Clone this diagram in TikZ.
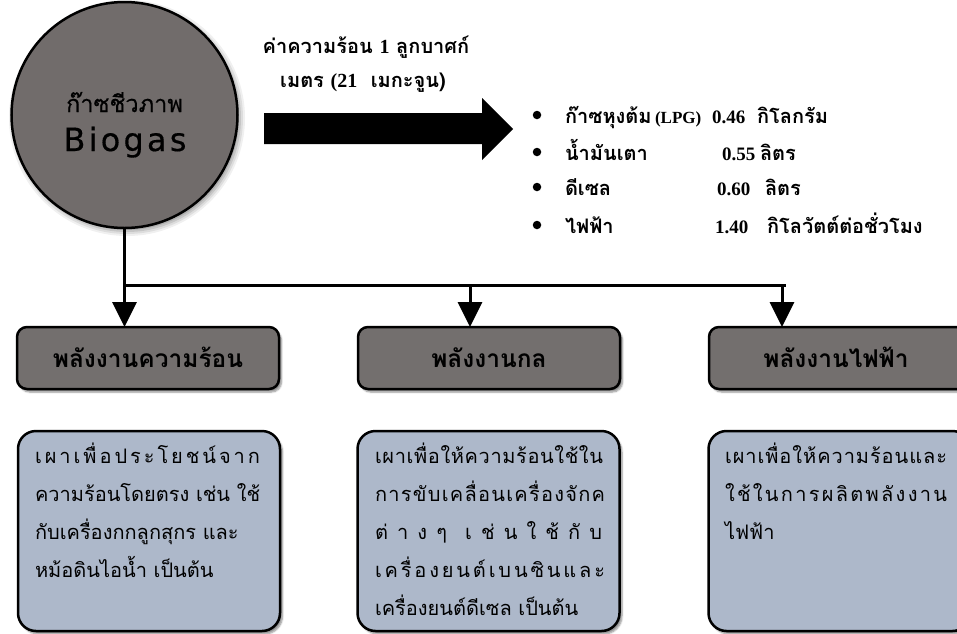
\documentclass[tikz,border=0pt]{standalone}
\usepackage{fontspec}
\usetikzlibrary{arrows.meta,shadows.blur}
\newfontfamily\thaifont[Script=Thai]{Loma}
\newfontfamily\hubthaifont[Script=Thai, FakeBold=0.6]{Loma}
\newfontfamily\numfont{Liberation Serif}
\newfontfamily\biofont[LetterSpace=10, FakeBold=0.4]{DejaVu Sans}
\definecolor{hubgray}{HTML}{716C6B}
\definecolor{boxgray}{HTML}{736F6E}
\definecolor{noteblue}{HTML}{ADB8CA}
\definecolor{inkblack}{HTML}{000000}
% a line of Thai clusters spread evenly over a fixed width
\newcommand\spreadline[2]{\leavevmode\hbox to #1{#2}}
\newcommand\gp{\hfil}
\newcommand\notefont{\thaifont\fontsize{20}{38}\selectfont\spaceskip=0.22em plus 0.1em\relax}
\tikzset{
  every node/.style={inner sep=0pt, outer sep=0pt},
  softshade/.style={blur shadow={shadow xshift=2.5pt, shadow yshift=-3pt,
      shadow blur steps=6, shadow opacity=45}},
  hub/.style={circle, draw, line width=2.5pt, fill=hubgray, minimum size=226pt},
  hubtext/.style={anchor=base, text=inkblack},
  titlebox/.style={draw, line width=2.5pt, fill=boxgray, rounded corners=10pt,
      minimum width=262pt, minimum height=62pt, softshade},
  notebox/.style={draw, line width=2.5pt, fill=noteblue, rounded corners=18pt,
      minimum width=262pt, minimum height=200pt, softshade},
  titletext/.style={anchor=base, text=black, font=\thaifont\bfseries\fontsize{24.5}{28}\selectfont},
  notetext/.style={anchor=base west, align=left, text width=250pt, text=black, font=\notefont},
  listtext/.style={anchor=base west, font=\thaifont\bfseries\fontsize{20}{24}\selectfont},
  listnum/.style={anchor=base west, font=\numfont\bfseries\fontsize{19}{24}\selectfont},
  bullet/.style={circle, fill=black, minimum size=8.5pt},
  bus/.style={line width=3pt},
  feed/.style={line width=3pt, -{Triangle[width=24pt,length=25pt]}},
}
\begin{document}
\begin{tikzpicture}[x=1pt, y=-1pt]
\useasboundingbox (0,0) rectangle (957,633);

% soft shadow under the hub, then the hub itself
\foreach \r/\o in {118/0.06,116/0.08,114/0.1,112/0.12}
  \fill[black, opacity=\o] (127,118) circle[radius=\r];
\node[hub] (bio) at (124.5,115) {};

% heating value caption and block arrow
\node[anchor=base, font=\thaifont\bfseries\fontsize{20}{24}\selectfont] (cap1) at (366,53)
  {ค่าความร้อน {\numfont\bfseries 1} ลูกบาศก์};
\node[anchor=base, font=\thaifont\bfseries\fontsize{20}{24}\selectfont] (cap2) at (363,87)
  {เมตร {\numfont\bfseries (21} \ เมกะจูน)};
\fill (264,113) -- (482,113) -- (482,98) -- (513,129) -- (482,160) -- (482,144) -- (264,144) -- cycle;

% equivalents list
\foreach \by [count=\i] in {115,152,187,225} \node[bullet] (b\i) at (537,\by) {};
\node[listtext] (l1) at (565,123) {ก๊าซหุงต้ม};
\node[listnum, font=\numfont\bfseries\fontsize{17}{24}\selectfont] (l1b) at (655,123) {(LPG)};
\node[listnum]  (n1) at (712,123) {0.46};
\node[listtext] (u1) at (757,123) {กิโลกรัม};
\node[listtext] (l2) at (565,160) {น้ำมันเตา};
\node[listnum]  (n2) at (722,160) {0.55};
\node[listtext] (u2) at (760,160) {ลิตร};
\node[listtext] (l3) at (565,195) {ดีเซล};
\node[listnum]  (n3) at (717,195) {0.60};
\node[listtext] (u3) at (765,195) {ลิตร};
\node[listtext] (l4) at (565,233) {ไฟฟ้า};
\node[listnum]  (n4) at (715,233) {1.40};
\node[listtext] (u4) at (767,233) {กิโลวัตต์ต่อชั่วโมง};

% energy categories
\node[titlebox] (heat) at (148,358) {};
\node[titlebox] (mech) at (489,358) {};
\node[titlebox] (elec) at (840,358) {};
\node[titletext] (heatt) at (148,367) {พลังงานความร้อน};
\node[titletext] (mecht) at (489,367) {พลังงานกล};
\node[titletext] (elect) at (836,367) {พลังงานไฟฟ้า};

% distribution bus
\coordinate (jL) at (124.5,285);
\coordinate (jM) at (470,285);
\coordinate (jR) at (782,285);
\coordinate (jEnd) at (786,285);
\draw[bus] (bio.south) -- (jL) -- (jEnd);
\draw[feed] (jL) -- (jL |- heat.north);
\draw[feed] (jM) -- (jM |- mech.north);
\draw[feed] (jR) -- (jR |- elec.north);

% descriptions
\node[notebox] (heatn) at (149,531) {};
\node[notebox] (mechn) at (488.5,531) {};
\node[notebox] (elecn) at (839.5,531) {};

\node[notetext] (heatd) at (35,463) {%
  \spreadline{225pt}{เ\gp ผ\gp า\gp เ\gp พื่\gp อ\gp ป\gp ร\gp ะ\gp โ\gp ย\gp ช\gp น์\gp จ\gp า\gp ก}\\
  ความร้อนโดยตรง เช่น ใช้\\
  กับเครื่องกกลูกสุกร และ\\
  หม้อดินไอน้ำ เป็นต้น};
\node[notetext] (mechd) at (375,463) {%
  \spreadline{228pt}{เ\gp ผ\gp า\gp เ\gp พื่\gp อ\gp ใ\gp ห้\gp ค\gp ว\gp า\gp ม\gp ร้\gp อ\gp น\gp ใ\gp ช้\gp ใ\gp น}\\
  \spreadline{230pt}{ก\gp า\gp ร\gp ขั\gp บ\gp เ\gp ค\gp ลื่\gp อ\gp น\gp เ\gp ค\gp รื่\gp อ\gp ง\gp จั\gp ก\gp ค}\\
  \spreadline{227pt}{ต่\gp า\gp ง\gp ๆ\gp\gp เ\gp ช่\gp น\gp ใ\gp ช้\gp กั\gp บ}\\
  \spreadline{230pt}{เ\gp ค\gp รื่\gp อ\gp ง\gp ย\gp น\gp ต์\gp เ\gp บ\gp น\gp ซิ\gp น\gp แ\gp ล\gp ะ}\\
  เครื่องยนต์ดีเซล เป็นต้น};
\node[notetext] (elecd) at (725,463) {%
  \spreadline{222pt}{เ\gp ผ\gp า\gp เ\gp พื่\gp อ\gp ใ\gp ห้\gp ค\gp ว\gp า\gp ม\gp ร้\gp อ\gp น\gp แ\gp ล\gp ะ}\\
  \spreadline{222pt}{ใ\gp ช้\gp ใ\gp น\gp ก\gp า\gp ร\gp ผ\gp ลิ\gp ต\gp พ\gp ลั\gp ง\gp ง\gp า\gp น}\\
  ไฟฟ้า};

% hub labels
\node[hubtext, font=\hubthaifont\fontsize{23.5}{28}\selectfont] (bioth) at (124.5,112) {ก๊าซชีวภาพ};
\node[hubtext, font=\biofont\fontsize{32}{36}\selectfont] (biolat) at (125,151) {Biogas};
\end{tikzpicture}
\end{document}
